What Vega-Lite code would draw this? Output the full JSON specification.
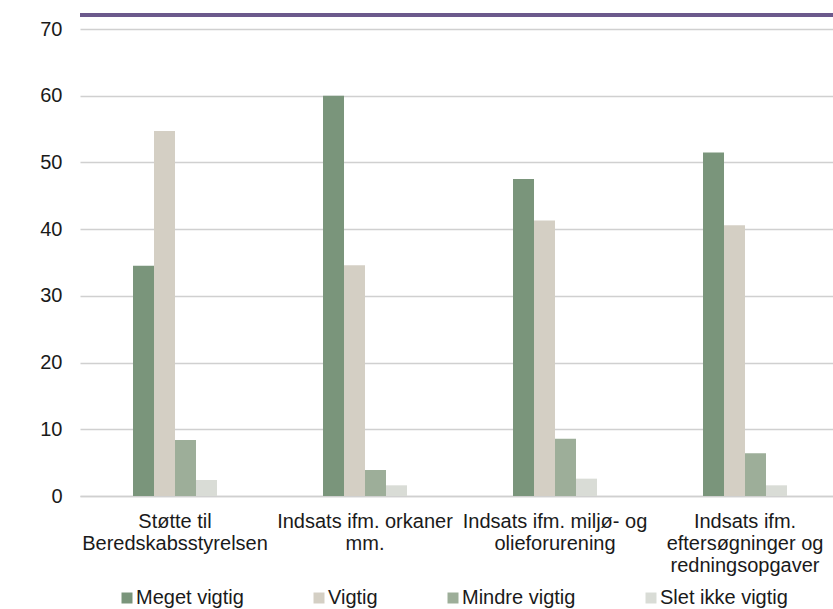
{
  "$schema": "https://vega.github.io/schema/vega-lite/v6.json",
  "width": 760,
  "height": 467,
  "padding": {"left": 39, "top": 13, "right": 0, "bottom": 0},
  "autosize": {"type": "pad"},
  "config": {
    "font": "Liberation Sans",
    "view": {"stroke": null},
    "axis": {"labelFont": "Liberation Sans", "labelFontSize": 20, "labelColor": "#1a1a1a", "title": null},
    "legend": {"labelFont": "Liberation Sans", "labelFontSize": 20, "labelColor": "#1a1a1a"}
  },
  "data": {
    "values": [
      {"kategori": "Støtte til Beredskabsstyrelsen", "svar": "Meget vigtig", "pct": 34.5},
      {"kategori": "Støtte til Beredskabsstyrelsen", "svar": "Vigtig", "pct": 54.7},
      {"kategori": "Støtte til Beredskabsstyrelsen", "svar": "Mindre vigtig", "pct": 8.4},
      {"kategori": "Støtte til Beredskabsstyrelsen", "svar": "Slet ikke vigtig", "pct": 2.4},
      {"kategori": "Indsats ifm. orkaner mm.", "svar": "Meget vigtig", "pct": 60.0},
      {"kategori": "Indsats ifm. orkaner mm.", "svar": "Vigtig", "pct": 34.6},
      {"kategori": "Indsats ifm. orkaner mm.", "svar": "Mindre vigtig", "pct": 3.9},
      {"kategori": "Indsats ifm. orkaner mm.", "svar": "Slet ikke vigtig", "pct": 1.6},
      {"kategori": "Indsats ifm. miljø- og olieforurening", "svar": "Meget vigtig", "pct": 47.5},
      {"kategori": "Indsats ifm. miljø- og olieforurening", "svar": "Vigtig", "pct": 41.3},
      {"kategori": "Indsats ifm. miljø- og olieforurening", "svar": "Mindre vigtig", "pct": 8.6},
      {"kategori": "Indsats ifm. miljø- og olieforurening", "svar": "Slet ikke vigtig", "pct": 2.6},
      {"kategori": "Indsats ifm. eftersøgninger og redningsopgaver", "svar": "Meget vigtig", "pct": 51.5},
      {"kategori": "Indsats ifm. eftersøgninger og redningsopgaver", "svar": "Vigtig", "pct": 40.6},
      {"kategori": "Indsats ifm. eftersøgninger og redningsopgaver", "svar": "Mindre vigtig", "pct": 6.4},
      {"kategori": "Indsats ifm. eftersøgninger og redningsopgaver", "svar": "Slet ikke vigtig", "pct": 1.6}
    ]
  },
  "layer": [
    {
      "mark": {"type": "bar"},
      "encoding": {
        "x": {
          "field": "kategori",
          "type": "nominal",
          "sort": ["Støtte til Beredskabsstyrelsen", "Indsats ifm. orkaner mm.", "Indsats ifm. miljø- og olieforurening", "Indsats ifm. eftersøgninger og redningsopgaver"],
          "scale": {"paddingInner": 0.558, "paddingOuter": 0.279},
          "axis": {
            "labelAngle": 0,
            "ticks": false,
            "tickSize": 0,
            "labelPadding": 15,
            "labelLineHeight": 22,
            "domainColor": "#d0d0d0",
            "domainWidth": 1.5,
            "labelLimit": 300,
            "labelExpr": "datum.label == 'Støtte til Beredskabsstyrelsen' ? ['Støtte til', 'Beredskabsstyrelsen'] : datum.label == 'Indsats ifm. orkaner mm.' ? ['Indsats ifm. orkaner', 'mm.'] : datum.label == 'Indsats ifm. miljø- og olieforurening' ? ['Indsats ifm. miljø- og', 'olieforurening'] : ['Indsats ifm.', 'eftersøgninger og', 'redningsopgaver']"
          }
        },
        "xOffset": {
          "field": "svar",
          "type": "nominal",
          "sort": ["Meget vigtig", "Vigtig", "Mindre vigtig", "Slet ikke vigtig"],
          "scale": {"paddingInner": 0, "paddingOuter": 0}
        },
        "y": {
          "field": "pct",
          "type": "quantitative",
          "scale": {"domain": [0, 70], "nice": false},
          "axis": {
            "values": [0, 10, 20, 30, 40, 50, 60, 70],
            "domain": false,
            "ticks": false,
            "tickSize": 0,
            "labelPadding": 18,
            "gridColor": "#d0d0d0",
            "gridWidth": 1.5
          }
        },
        "color": {
          "field": "svar",
          "type": "nominal",
          "sort": ["Meget vigtig", "Vigtig", "Mindre vigtig", "Slet ikke vigtig"],
          "scale": {
            "domain": ["Meget vigtig", "Vigtig", "Mindre vigtig", "Slet ikke vigtig"],
            "range": ["#7a957b", "#d4cfc4", "#9dae99", "#d9dcd6"]
          },
          "legend": {
            "title": null,
            "orient": "none",
            "legendX": 37,
            "legendY": 559,
            "direction": "horizontal",
            "symbolType": "square",
            "symbolSize": 121,
            "symbolStrokeWidth": 0,
            "labelOffset": -1,
            "columnPadding": 65,
            "labelLimit": 300
          }
        }
      }
    },
    {
      "mark": {"type": "rule", "color": "#6b5a8c", "strokeWidth": 2.5, "clip": false},
      "encoding": {
        "y": {"datum": 72.1, "type": "quantitative"}
      }
    }
  ]
}
